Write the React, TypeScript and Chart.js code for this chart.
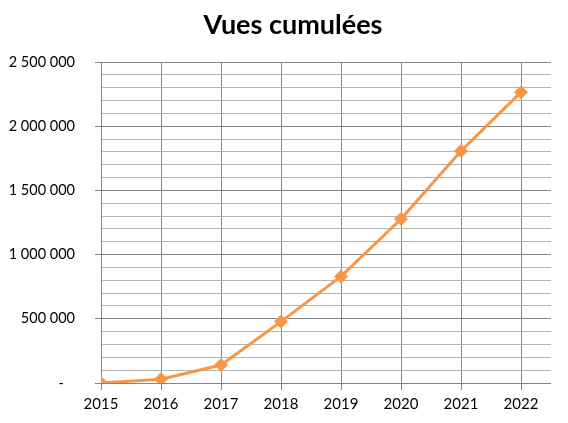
import React, { useEffect, useRef } from "react";
import { Chart, registerables } from "chart.js";

Chart.register(...registerables);

const TITLE = "Vues cumulées";
const years = [2015, 2016, 2017, 2018, 2019, 2020, 2021, 2022];
const views = [0, 29000, 140000, 478000, 830000, 1277000, 1807000, 2265000];
const yMax = 2500000;
const yStep = 100000;
const yMajor = 500000;

const FONT = "Lato, 'Open Sans', sans-serif";
const ORANGE = "#F79646";
const MAJOR = "#868686";
const MINOR = "#B4B4B4";

function fmt(v: number): string {
  if (v === 0) return "-   ";
  return String(v).replace(/\B(?=(\d{3})+(?!\d))/g, " ");
}

const titlePlugin = {
  id: "customTitle",
  afterDraw(chart: any) {
    const ctx = chart.ctx;
    ctx.save();
    ctx.font = `bold 27px ${FONT}`;
    ctx.fillStyle = "#000000";
    ctx.textAlign = "center";
    ctx.textBaseline = "alphabetic";
    ctx.fillText(TITLE, 293, 34);
    ctx.restore();
  },
};

export default function App() {
  const ref = useRef<HTMLCanvasElement | null>(null);
  useEffect(() => {
    if (!ref.current) return;
    const chart = new Chart(ref.current, {
      type: "line",
      data: {
        datasets: [
          {
            data: years.map((x, i) => ({ x, y: views[i] })),
            borderColor: ORANGE,
            backgroundColor: ORANGE,
            borderWidth: 3,
            pointStyle: "rectRot",
            pointRadius: 7,
            pointBorderWidth: 0,
            pointBackgroundColor: ORANGE,
            tension: 0,
          },
        ],
      },
      options: {
        responsive: false,
        animation: false,
        devicePixelRatio: 1,
        layout: { padding: { top: 62, right: 17, left: 0, bottom: 0 } },
        plugins: { legend: { display: false }, tooltip: { enabled: false }, title: { display: false } },
        scales: {
          x: {
            type: "linear",
            min: 2015,
            max: 2022.5,
            border: { display: false },
            grid: { color: MAJOR, lineWidth: 1, tickLength: 7, drawTicks: true },
            ticks: {
              stepSize: 1,
              includeBounds: false,
              autoSkip: false,
              maxRotation: 0,
              color: "#000000",
              font: { family: FONT, size: 15 },
              padding: 5,
              callback: (v: any) => String(v),
            },
            afterFit: (s: any) => {
              s.height = 40;
            },
          },
          y: {
            min: 0,
            max: yMax,
            border: { display: true, color: MAJOR, width: 1 },
            grid: {
              color: (c: any) => (c.tick && c.tick.value % yMajor === 0 ? MAJOR : MINOR),
              tickColor: (c: any) => (c.tick && c.tick.value % yMajor === 0 ? MAJOR : "rgba(0,0,0,0)"),
              lineWidth: 1,
              tickLength: 6,
            },
            ticks: {
              stepSize: yStep,
              autoSkip: false,
              color: "#000000",
              font: { family: FONT, size: 14.5 },
              padding: 20,
              callback: (v: any) => (Number(v) % yMajor === 0 ? fmt(Number(v)) : ""),
            },
            afterFit: (s: any) => {
              s.width = 101;
            },
          },
        },
      },
      plugins: [titlePlugin],
    });
    return () => chart.destroy();
  }, []);
  return (
    <div style={{ position: "fixed", left: 0, top: 0, width: 568, height: 423, background: "#fff" }}>
      <canvas ref={ref} width={568} height={423} style={{ width: 568, height: 423 }} />
    </div>
  );
}
